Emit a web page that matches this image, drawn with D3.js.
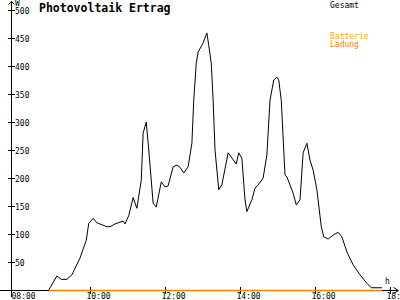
<!DOCTYPE html>
<html>
<head>
<meta charset="utf-8">
<script src="https://cdn.jsdelivr.net/npm/d3@7"></script>
<style>
  body { margin: 0; background: #fff; }
  text { font-family: "DejaVu Sans Mono", monospace; font-size: 8px; }
  .title { font-size: 11.5px; font-weight: bold; }
</style>
</head>
<body>
<div id="chart"></div>
<script>
// Gesamt (W) over the day
var times = ["08:54", "09:07", "09:14", "09:23", "09:31", "09:44", "09:54", "09:58", "10:05", "10:11",
  "10:27", "10:32", "10:40", "10:53", "10:56", "11:02", "11:09", "11:15", "11:22", "11:25",
  "11:30", "11:34", "11:41", "11:46", "11:54", "12:00", "12:05", "12:13", "12:19", "12:24",
  "12:30", "12:37", "12:43", "12:46", "12:50", "12:53", "13:01", "13:07", "13:10", "13:14",
  "13:17", "13:20", "13:26", "13:31", "13:41", "13:54", "13:58", "14:03", "14:08", "14:11",
  "14:19", "14:24", "14:30", "14:37", "14:43", "14:48", "14:54", "14:59", "15:02", "15:06",
  "15:12", "15:15", "15:25", "15:30", "15:36", "15:41", "15:47", "15:52", "15:57", "16:03",
  "16:10", "16:14", "16:21", "16:29", "16:37", "16:43", "16:51", "17:01", "17:12", "17:23",
  "17:30", "17:47"];
var gesamt = [0, 25, 19, 19, 27, 57, 89, 119, 128, 120,
  113, 113, 118, 123, 118, 133, 165, 146, 196, 280,
  300, 250, 155, 148, 193, 184, 186, 220, 223, 219,
  209, 220, 262, 339, 405, 425, 441, 459, 437, 405,
  339, 250, 179, 188, 245, 225, 245, 235, 161, 140,
  161, 182, 189, 200, 241, 339, 375, 380, 375, 339,
  205, 202, 173, 152, 161, 245, 262, 232, 214, 179,
  113, 95, 91, 98, 103, 95, 68, 45, 27, 12,
  4, 4];

// Batterie Ladung
var ladungTimes = ["08:54", "17:47"];
var ladung = [0, 0];

var xTicks = ["08:00", "10:00", "12:00", "14:00", "16:00", "18:00"];
var yTicks = [50, 100, 150, 200, 250, 300, 350, 400, 450, 500];

var svgWidth = 400;
var svgHeight = 300;

var parseTime = d3.timeParse("%H:%M");

var svg = d3.select("#chart")
  .append("svg")
  .attr("width", svgWidth)
  .attr("height", svgHeight);

var xScale = d3.scaleTime()
  .domain([parseTime("08:00"), parseTime("18:00")])
  .range([15, 390]);

var yScale = d3.scaleLinear()
  .domain([0, 500])
  .range([290, 10]);

// axes
svg.append("line")
  .attr("x1", 0).attr("x2", 398)
  .attr("y1", 290.5).attr("y2", 290.5)
  .attr("stroke", "#000");
svg.append("line")
  .attr("x1", 11.5).attr("x2", 11.5)
  .attr("y1", 1).attr("y2", 297)
  .attr("stroke", "#000");

// arrow heads
svg.append("path")
  .attr("d", "M393.5,287.5L398.5,290.5L393.5,293.5")
  .attr("fill", "none").attr("stroke", "#000");
svg.append("path")
  .attr("d", "M8.5,4.5L11.5,1.5L14.5,4.5")
  .attr("fill", "none").attr("stroke", "#000");

// y ticks
yTicks.forEach(function(v) {
  var y = Math.round(yScale(v)) + 0.5;
  svg.append("line")
    .attr("x1", 8).attr("x2", 15)
    .attr("y1", y).attr("y2", y)
    .attr("stroke", "#000");
  svg.append("text")
    .attr("x", 15)
    .attr("y", y + 3)
    .text(v);
});

// x ticks
xTicks.forEach(function(t, i) {
  var x = Math.round(xScale(parseTime(t))) + 0.5;
  if (i > 0) {
    svg.append("line")
      .attr("x1", x).attr("x2", x)
      .attr("y1", 287).attr("y2", 294)
      .attr("stroke", "#000");
  }
  svg.append("text")
    .attr("x", x - 4)
    .attr("y", 299)
    .text(t);
});

svg.append("text").attr("x", 15).attr("y", 6).text("W");
svg.append("text").attr("x", 385).attr("y", 284).text("h");

var gesamtData = times.map(function(t, i) { return { t: parseTime(t), v: gesamt[i] }; });
var ladungData = ladungTimes.map(function(t, i) { return { t: parseTime(t), v: ladung[i] }; });

var line = d3.line()
  .x(d => xScale(d.t))
  .y(d => yScale(d.v));

svg.append("path")
  .datum(gesamtData)
  .attr("d", line)
  .attr("fill", "none")
  .attr("stroke", "#000")
  .attr("stroke-width", 1);

svg.append("path")
  .datum(ladungData)
  .attr("d", line)
  .attr("transform", "translate(0,0.5)")
  .attr("fill", "none")
  .attr("stroke", "#ff8000")
  .attr("stroke-width", 1.5);

// title and legend
svg.append("text")
  .attr("class", "title")
  .attr("x", 39)
  .attr("y", 12)
  .text("Photovoltaik Ertrag");

svg.append("text").attr("x", 330).attr("y", 8).attr("fill", "#000").text("Gesamt");
svg.append("text").attr("x", 330).attr("y", 39).attr("fill", "#ffaa00").text("Batterie");
svg.append("text").attr("x", 330).attr("y", 47).attr("fill", "#ff8000").text("Ladung");
</script>
</body>
</html>
